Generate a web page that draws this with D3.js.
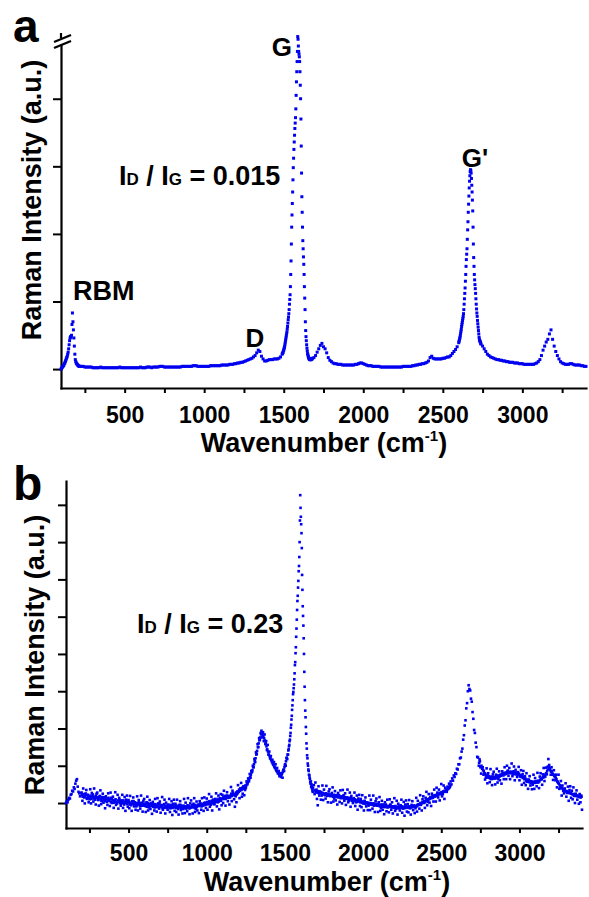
<!DOCTYPE html>
<html>
<head>
<meta charset="utf-8">
<script src="https://cdn.jsdelivr.net/npm/d3@7"></script>
<style>
  body { margin: 0; background: #fff; }
  svg { display: block; }
  text { font-family: "Liberation Sans", Arial, Helvetica, sans-serif; font-weight: bold; fill: #000; }
</style>
</head>
<body>
<svg id="chart" width="589" height="897"></svg>
<script>
// ---- shared wavenumber axis (cm^-1) ----
const waveDomain = [100, 3400];
const waveTickStep = 250;          // a tick every 250, label every 500
const waveLabelEvery = 500;

// ---- spectrum (a): SWCNT, low defect ----
// each block: first wavenumber, sampling step, measured intensities
const specA_rbm = { start: 100, step: 3, values: [0,1,2,3,4,5,6,8,9,11,13,15,17,19,22,25,30,36,42,46,48,47,50,66,83,70,58,46,34,22,14,11,9,8,7,6,5,5,4,4,4] };
const specA_mid = { start: 230, step: 10, values: [
  4,4,3,3,3,3,3,2,2,2,2,2,3,2,2,2,2,2,
  2,2,2,2,2,2,3,2,2,2,2,2,2,2,2,2,2,2,2,3,
  2,2,2,3,3,3,2,3,3,3,3,4,4,4,3,3,3,3,3,3,
  3,3,3,3,3,4,4,4,4,4,4,4,5,5,5,4,4,4,4,4,
  4,4,4,5,5,5,5,5,5,5,6,6,6,6,6,7,7,7,8,8,
  9,9,10,10,11,12,13,14,15,16,
  18,20,24,28,26,19,15,12,12,13,
  14,14,14,15,15,15,16,18] };
const specA_g = { start: 1490, step: 2, values: [
  22,23,24,25,27,28,30,32,34,37,40,43,46,49,52,55,59,63,68,73,
  77,82,88,96,103,110,122,140,160,185,210,228,245,262,280,298,312,325,336,346,
  356,364,372,385,405,425,440,455,470,492,
  488,478,470,466,462,455,440,420,400,370,330,290,255,232,210,190,178,166,155,140,
  122,105,88,70,57,48,42,36,31,27,23,21,19,17,16,15,15,14,14,14,
  14,14,15,15,15,16] };
const specA_tail = { start: 1690, step: 10, values: [
  17,20,25,30,35,38,33,30,24,17,
  13,11,9,8,8,7,7,7,6,6,
  6,6,6,6,6,6,7,7,8,9,
  9,8,7,6,5,5,5,4,4,4,
  4,4,3,3,3,3,3,3,3,3,
  3,3,3,3,3,3,4,4,4,4,
  4,4,5,5,6,6,7,7,8,8,
  9,10,12,17,19,16,15,15,15,15,
  15,16,16,17,18,18,20,23,26,29,33] };
const specA_g2 = { start: 2600, step: 2, values: [
  39,41,43,45,47,50,53,56,59,63,66,69,72,75,78,82,88,96,104,112,
  120,130,140,152,162,170,178,192,206,218,232,244,256,268,278,286,292,295,294,290,
  282,272,262,250,234,210,185,165,152,140,132,125,119,112,104,96,89,83,78,72,
  67,62,57,52,47,44,42,41,40,38,37] };
const specA_end = { start: 2750, step: 10, values: [
  34,30,26,22,20,18,17,16,15,14,
  14,13,13,12,12,11,11,10,10,10,
  9,9,9,8,8,8,7,7,7,7,
  7,7,7,8,9,11,14,20,28,34,
  40,44,52,58,44,34,26,20,15,11,
  9,8,7,7,7,8,8,7,6,6,
  6,6,5,5,4,4] };
const spectrumA = [specA_rbm, specA_mid, specA_g, specA_tail, specA_g2, specA_end];
const ticksA = [0, 100, 200, 300, 400];

// ---- spectrum (b): higher defect density, noisier ----
const specB_low = { start: 100, step: 5, values: [
  0,4,2,9,14,12,22,24,33,31,
  42,38,52,60,64,44,30,26,18,27,
  28,6,39,17,-1,25,35,11,22,2,
  10,37,-1,27,16,4,39,12,-4,25,
  28,10,-7,19,34,-3,5,25,1,15,
  -14,18,12,-5,26,7,-8,28,14,0,
  17,-13,6,29,-5,0,22,-15,14,2,
  -7,7,22,-13,-2,16,-21,9,20,-10,
  8,-14,19,-3,-21,5,15,-9,2,-18,
  -9,18,-20,8,-3,-15,20,-7,-23,6,
  11,-7,-24,2,17,-20,-12,8,-16,-2,
  -29,3,-3,-20,11,-8,-23,13,-1,-15,
  4,-26,-7,16,-18,-13,9,-28,1,-11,
  -18,-4,11,-24,-13,5,-32,-2,9,-21,
  -2,-24,9,-13,-31,-5,5,-19,-8,-28,
  -16,11,-27,1,-10,-22,13,-14,-30,-1,
  7,-11,-28,-2,13,-24,-16,4,-20,-6,
  -27,5,-1,-18,13,-6,-21,15,1,-13,
  12,-18,1,24,-10,-5,17,-20,9,-3,
  -3,11,26,-9,2,20,-17,13,24,-6,
  22,0,33,11,-7,19,29,5,16,-4,
  16,43,5,33,22,10,-10,18,2,31,
  48,30,13,39,54,17,25,45,21,35,
  40,58,50,66,58,78,68,86,84,100,
  96,118,110,136,132,158,150,174,170,188,
  194,176,190,166,184,158,166,142,156,130,
  138,120,126,114,116,104,110,96,104,88,
  94,80,86,72,80,70,78,68,88,86,
  102,100,120,118] };
const specB_low2 = { start: 202, step: 5, values: [
  22,17,24,15,19,25,13,21,18,16,
  14,20,11,18,23,12,17,9,19,15,
  15,8,13,18,10,6,16,12,7,14,
  5,11,3,9,14,6,10,2,12,7,
  8,1,6,10,3,-1,7,4,9,0,
  -2,5,1,7,-4,3,0,6,-3,2,
  3,-4,1,-6,4,-2,5,-5,0,-1,
  -6,0,-4,2,-8,-1,-5,1,-7,-2,
  -2,-8,-4,-10,0,-6,-3,-9,-1,-7,
  -4,-10,-6,-12,-3,-8,-11,-5,-9,-2,
  -11,-5,-9,-14,-6,-3,-10,-7,-13,-8,
  -6,-12,-8,-14,-5,-10,-13,-7,-11,-9,
  -13,-7,-11,-16,-8,-12,-5,-14,-9,-10,
  -7,-13,-9,-15,-11,-6,-12,-8,-14,-10,
  -12,-6,-10,-8,-13,-5,-9,-11,-7,-4,
  -8,-2,-6,-9,-3,-7,0,-5,-1,-4,
  3,-3,2,5,-2,1,6,-1,4,2,
  9,3,8,5,11,4,7,10,6,12,
  11,17,13,19,12,16,20,14,18,15,
  20,25,19,27,22,24,21,28,23,26,
  30,36,33,39,35,41,38,44,40,47,
  46,52,55,60,64,70,76,82,88,96,
  104,112,120,130,140,150,160,168,176,184,
  188,184,180,174,168,160,152,144,138,130,
  126,120,116,110,106,102,98,94,90,86,
  84,80,78,76,74,76,80,84,90,96,
  104,112,122,130] };
const specB_g = { start: 1520, step: 2, values: [
  130,141,144,152,156,166,170,180,188,202,
  210,224,234,250,262,276,292,298,308,318,
  332,348,370,378,402,418,446,468,492,518,
  542,556,578,596,622,636,660,700,758,826,
  792,768,748,724,684,612,572,528,502,476,
  442,400,352,312,276,248,230,204,186,160,
  146,128,120,106,100,90,86,76,74,68,
  64,56,52,58,44,50,40,46,34,30,40] };
const specB_high = { start: 1685, step: 5, values: [
  48,24,55,31,11,-6,45,20,30,9,
  20,47,8,36,24,12,46,19,2,31,
  37,19,1,27,42,4,12,32,7,21,
  -4,27,21,3,34,15,-1,35,21,6,
  26,-5,14,36,2,6,28,-10,19,6,
  0,13,28,-8,2,20,-18,12,22,-8,
  11,-11,21,-1,-20,6,15,-9,1,-19,
  -7,20,-19,9,-2,-15,20,-7,-24,5,
  12,-7,-24,2,16,-21,-13,6,-18,-4,
  -30,2,-4,-22,9,-10,-25,10,-4,-18,
  2,-28,-9,13,-21,-16,6,-31,-2,-14,
  -20,-6,9,-26,-15,3,-34,-4,7,-23,
  -3,-25,8,-14,-31,-5,5,-19,-7,-27,
  -14,14,-23,6,-4,-15,21,-5,-20,10,
  18,2,-13,14,30,-6,3,24,1,16,
  -8,25,20,4,36,18,4,41,28,15,
  36,7,27,51,18,24,47,11,41,31,
  30,44,38,52,44,58,50,66,60,74,
  70,80,78,92,90,104,104,120,122,138,
  146,170,182,208,222,254,268,300,316,306,
  302,280,272,244,226,196,188,162,150,124,
  122,100,117,96,79,94,96,76,79,63,
  68,93,53,80,68,56,91,64,48,77,
  84,66,50,76,92,55,64,85,61,76,
  52,85,80,64,96,78,64,100,87,73,
  94,64,83,106,72,77,98,61,89,77,
  70,83,97,61,71,88,49,77,86,54,
  72,48,80,57,38,63,72,47,58,37,
  49,76,38,67,56,45,81,55,40,71,
  80,64,49,77,94,59,71,95,77,97,
  118,102,93,76,96,77,62,88,75,61,
  76,42,57,76,38,40,59,20,47,33,
  26,39,53,17,27,44,6,35,45,14,
  33,10,42,19,0,25,34,9,19,-2,
  24,2,20,-18] };
const specB_high2 = { start: 1692, step: 5, values: [
  34,30,36,28,32,26,31,27,29,25,
  27,23,25,21,26,22,24,20,23,21,
  19,23,20,17,22,18,21,16,20,18,
  15,19,16,13,18,14,17,12,16,14,
  11,15,12,9,14,10,13,8,11,9,
  6,10,5,8,3,7,4,6,2,5,
  1,4,0,3,-2,2,-1,1,-3,0,
  -3,0,-4,-2,-5,-1,-4,-6,-2,-5,
  -7,-3,-6,-9,-4,-8,-5,-10,-6,-8,
  -11,-7,-9,-12,-8,-10,-6,-11,-9,-12,
  -9,-13,-10,-8,-12,-11,-14,-9,-12,-10,
  -13,-9,-12,-10,-14,-11,-8,-13,-10,-12,
  -9,-13,-10,-12,-8,-11,-9,-7,-10,-8,
  -9,-5,-6,-3,-4,0,-2,1,3,0,
  5,2,7,6,10,8,12,11,14,13,
  17,14,19,18,21,19,23,21,25,23,
  27,25,29,28,31,30,33,32,36,35,
  38,42,41,46] };
const specB_right2 = { start: 2742, step: 5, values: [
  108,112,98,100,92,88,86,80,78,74,
  70,74,68,72,66,70,67,71,65,69,
  70,66,72,68,74,70,71,75,73,76,
  78,74,80,77,82,79,84,80,83,81,
  84,80,83,79,85,81,78,82,80,77,
  76,79,73,75,70,72,67,69,64,66,
  60,63,58,61,56,59,54,57,53,56,
  57,54,58,55,59,57,60,58,62,65,
  64,68,71,69,74,78,80,86,90,98,
  92,88,84,85,79,76,73,70,68,64,
  58,54,52,48,46,43,40,38,37,35,
  33,31,32,29,30,27,28,26,25,24,
  23,24,21,22,19,20,18,19,17,16,
  15,17] };
const spectrumB = [specB_low, specB_low2, specB_g, specB_high, specB_high2, specB_right2];
const ticksB = [0, 100, 200, 300, 400, 500, 600, 700, 800];

// ---- annotations ----
const peakLabelsA = ["RBM", "D", "G", "G'"];
const ratioA = "0.015";
const ratioB = "0.23";

const dotColor = "#0000f0";
const svg = d3.select("#chart");

function points(blocks) {
  return blocks.flatMap(b => b.values.map((v, i) => ({ w: b.start + i * b.step, v })));
}

function drawPanel(cfg) {
  const g = svg.append("g");
  const x = d3.scaleLinear().domain(waveDomain).range([cfg.left, cfg.right]);
  const y = d3.scaleLinear().domain(cfg.yDomain).range([cfg.bottom, cfg.top]);

  // x axis
  const xAxis = d3.axisBottom(x)
    .tickValues(d3.range(waveTickStep, waveDomain[1] + 1, waveTickStep))
    .tickSize(5).tickSizeOuter(0).tickPadding(cfg.tickPad)
    .tickFormat(d => d % waveLabelEvery === 0 ? d : "");
  const gx = g.append("g").attr("transform", `translate(0,${cfg.bottom})`).call(xAxis);
  gx.attr("font-family", null);
  gx.select(".domain").attr("stroke-width", 2.2).attr("stroke-linecap", "square");
  gx.selectAll(".tick line").attr("stroke-width", 2);
  gx.selectAll(".tick text").style("font-size", "23px").attr("fill", "#000");

  // y axis (ticks only, no labels)
  const yAxis = d3.axisLeft(y).tickValues(cfg.yTicks).tickSize(8).tickSizeOuter(0).tickFormat("");
  const gy = g.append("g").attr("transform", `translate(${cfg.left},0)`).call(yAxis);
  gy.select(".domain").attr("stroke-width", 2.2).attr("stroke-linecap", "square");
  gy.selectAll(".tick line").attr("stroke-width", 2);

  // spectrum as square markers
  const s = cfg.dot;
  g.append("g").attr("fill", dotColor)
    .selectAll("rect").data(points(cfg.data)).join("rect")
    .attr("x", d => x(d.w) - s / 2)
    .attr("y", d => y(d.v) - s / 2)
    .attr("width", s).attr("height", s);

  // axis titles
  const xt = g.append("text").attr("x", cfg.xTitleX).attr("y", cfg.xTitleY)
    .attr("text-anchor", "middle").style("font-size", "27px");
  xt.append("tspan").text("Wavenumber (cm");
  xt.append("tspan").attr("dy", -11).style("font-size", "15px").text("-1");
  xt.append("tspan").attr("dy", 11).text(")");

  g.append("text")
    .attr("transform", `translate(${cfg.yTitleX},${cfg.yTitleY}) rotate(-90)`)
    .attr("text-anchor", "middle").style("font-size", "27px")
    .text("Raman Intensity (a.u.)");

  // panel letter
  g.append("text").attr("x", cfg.letterX).attr("y", cfg.letterY)
    .style("font-size", cfg.letterSize + "px").text(cfg.letter);

  // intensity ratio
  const r = g.append("text").attr("x", cfg.ratioX).attr("y", cfg.ratioY).style("font-size", "27px");
  r.append("tspan").text("I");
  r.append("tspan").style("font-size", "17px").text("D");
  r.append("tspan").text(" / I");
  r.append("tspan").style("font-size", "17px").text("G");
  r.append("tspan").text(" = " + cfg.ratio);

  return { g, x, y };
}

// panel (a)
const pa = drawPanel({
  left: 61, right: 586, bottom: 388, top: 44,
  yDomain: [-28, 481], yTicks: ticksA, data: spectrumA, dot: 3,
  tickPad: 14, xTitleX: 324, xTitleY: 452, yTitleX: 41, yTitleY: 200,
  letter: "a", letterX: 13, letterY: 42, letterSize: 46,
  ratio: ratioA, ratioX: 119, ratioY: 185
});

// axis break at the top of the (a) intensity axis
const brk = pa.g.append("g").attr("stroke", "#000").attr("stroke-width", 2.2);
brk.append("path").attr("d", "M54,47 L71,40 L71,35 L54,42 Z").attr("fill", "#fff").attr("stroke", "none");
brk.append("line").attr("x1", 54).attr("y1", 48).attr("x2", 71).attr("y2", 41);
brk.append("line").attr("x1", 54).attr("y1", 42).attr("x2", 71).attr("y2", 35);
brk.append("line").attr("x1", 61).attr("y1", 38).attr("x2", 61).attr("y2", 33);

// peak labels in (a)
const labelPos = { "RBM": [73, 300, "start", 27], "D": [255, 347, "middle", 26], "G": [292, 56, "end", 26], "G'": [475, 167, "middle", 26] };
peakLabelsA.forEach(t => {
  const [lx, ly, anchor, size] = labelPos[t];
  pa.g.append("text").attr("x", lx).attr("y", ly).attr("text-anchor", anchor)
    .style("font-size", size + "px").text(t);
});

// panel (b)
drawPanel({
  left: 66, right: 582, bottom: 828, top: 481,
  yDomain: [-67, 864], yTicks: ticksB, data: spectrumB, dot: 2.6,
  tickPad: 12, xTitleX: 327, xTitleY: 891, yTitleX: 44, yTitleY: 655,
  letter: "b", letterX: 13, letterY: 500, letterSize: 48,
  ratio: ratioB, ratioX: 137, ratioY: 633
});
</script>
</body>
</html>
